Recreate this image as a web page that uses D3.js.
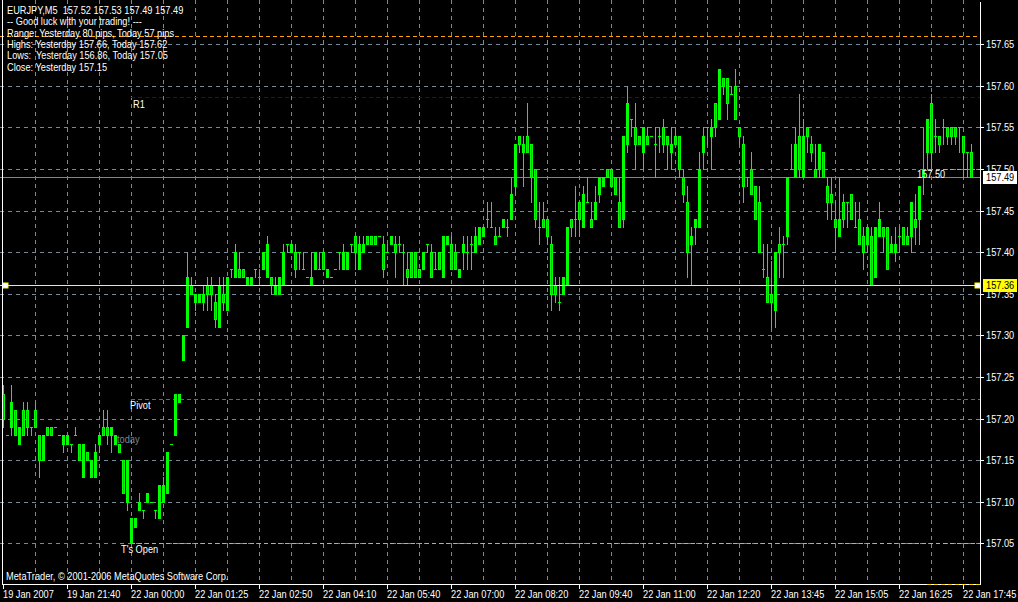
<!DOCTYPE html>
<html><head><meta charset="utf-8">
<script src="https://cdn.jsdelivr.net/npm/d3@7"></script>
<style>
html,body{margin:0;padding:0;background:#000;}
svg{display:block;}
text{font-family:"Liberation Sans",Arial,sans-serif;font-size:10.5px;white-space:pre;}
</style></head>
<body>
<svg id="c" width="1018" height="602"></svg>
<script>
// ---- data (EURJPY M5) ----
const opens = [157.23,157.18,157.19,157.21,157.17,157.21,157.21,157.19,157.21,157.18,157.15,157.19,157.19,157.19,157.18,157.17,157.17,157.17,157.18,157.17,157.13,157.16,157.13,157.13,157.17,157.19,157.19,157.18,157.17,157.17,157.15,157.10,
157.05,157.07,157.09,157.09,157.10,157.10,157.09,157.08,157.10,157.11,157.17,157.18,157.22,157.27,157.31,157.36,157.34,157.34,157.34,157.36,157.36,157.34,157.31,157.35,157.33,157.38,157.37,157.38,157.38,157.36,157.36,157.38,157.37,157.38,157.37,157.37,157.35,157.35,157.36,157.41,157.40,157.40,157.40,157.38,157.37,157.36,157.38,157.38,157.40,157.37,157.37,157.38,157.40,157.38,157.38,157.41,157.42,157.38,157.40,157.42,157.42,157.42,157.42,157.41,157.40,157.41,157.41,157.41,157.40,157.38,157.40,157.40,157.38,157.38,157.41,157.40,157.38,157.40,157.37,157.41,157.41,157.40,157.37,157.40,157.40,157.41,157.40,157.41,157.42,157.44,157.43,157.42,157.42,157.43,157.43,157.44,157.48,157.54,157.52,157.54,157.53,157.50,157.43,157.44,157.44,157.41,157.36,157.34,157.35,157.36,157.44,157.44,157.46,157.43,157.46,157.44,157.44,157.47,157.48,157.50,157.50,157.49,157.46,157.44,157.53,157.56,157.55,157.54,157.52,157.54,157.54,157.53,157.54,157.55,157.54,157.52,157.54,157.54,157.49,157.46,157.41,157.43,157.43,157.52,157.55,157.54,157.58,157.56,157.61,157.61,157.59,157.60,157.55,157.53,157.49,157.50,157.48,157.46,157.38,157.37,157.35,157.33,157.41,157.41,157.42,157.50,157.49,157.54,157.49,157.55,157.53,157.50,157.50,157.52,157.48,157.47,157.44,157.42,157.46,157.46,157.47,157.43,157.44,157.42,157.41,157.42,157.37,157.42,157.43,157.43,157.40,157.40,157.42,157.43,157.42,157.42,157.44,157.44,157.49,157.52,157.58,157.54,157.54,157.55,157.55,157.55,157.55,157.55,157.54,157.52,157.52];
const highs = [157.24,157.18,157.24,157.21,157.19,157.22,157.22,157.19,157.22,157.18,157.18,157.19,157.19,157.19,157.18,157.18,157.18,157.17,157.19,157.17,157.17,157.16,157.15,157.17,157.18,157.21,157.21,157.19,157.18,157.17,157.15,157.15,
157.08,157.08,157.11,157.09,157.11,157.10,157.09,157.12,157.13,157.16,157.17,157.23,157.23,157.30,157.40,157.37,157.35,157.35,157.36,157.37,157.37,157.35,157.37,157.37,157.37,157.38,157.41,157.40,157.38,157.37,157.37,157.38,157.38,157.40,157.42,157.37,157.37,157.37,157.41,157.41,157.41,157.41,157.40,157.40,157.37,157.40,157.40,157.40,157.40,157.38,157.37,157.38,157.40,157.41,157.40,157.41,157.42,157.42,157.42,157.42,157.42,157.42,157.42,157.42,157.41,157.42,157.42,157.42,157.41,157.40,157.40,157.40,157.38,157.40,157.41,157.41,157.40,157.40,157.42,157.42,157.42,157.41,157.38,157.42,157.42,157.42,157.43,157.43,157.43,157.46,157.46,157.43,157.43,157.44,157.44,157.49,157.53,157.54,157.54,157.58,157.53,157.50,157.46,157.46,157.44,157.42,157.37,157.37,157.37,157.43,157.44,157.48,157.46,157.48,157.49,157.46,157.48,157.49,157.49,157.50,157.50,157.49,157.49,157.54,157.60,157.56,157.58,157.54,157.55,157.55,157.54,157.55,157.55,157.56,157.54,157.55,157.55,157.54,157.50,157.48,157.43,157.44,157.52,157.55,157.55,157.56,157.58,157.62,157.61,157.61,157.60,157.62,157.55,157.54,157.49,157.52,157.48,157.48,157.41,157.41,157.39,157.40,157.43,157.42,157.49,157.53,157.55,157.59,157.56,157.55,157.54,157.53,157.53,157.52,157.49,157.49,157.46,157.49,157.47,157.46,157.47,157.46,157.46,157.43,157.43,157.43,157.43,157.46,157.43,157.43,157.42,157.43,157.43,157.43,157.43,157.46,157.47,157.48,157.55,157.56,157.59,157.56,157.54,157.56,157.55,157.55,157.55,157.55,157.54,157.52,157.53];
const lows = [157.19,157.18,157.18,157.18,157.17,157.18,157.18,157.18,157.19,157.13,157.15,157.18,157.18,157.19,157.18,157.16,157.17,157.16,157.18,157.15,157.13,157.15,157.13,157.13,157.16,157.18,157.17,157.16,157.17,157.16,157.11,157.09,
157.05,157.07,157.09,157.08,157.10,157.10,157.08,157.08,157.10,157.11,157.17,157.18,157.22,157.27,157.31,157.35,157.33,157.34,157.33,157.33,157.33,157.31,157.31,157.33,157.33,157.37,157.37,157.37,157.37,157.36,157.36,157.37,157.36,157.38,157.37,157.35,157.35,157.35,157.36,157.40,157.40,157.37,157.38,157.38,157.37,157.36,157.38,157.38,157.38,157.37,157.37,157.38,157.38,157.38,157.38,157.40,157.38,157.38,157.40,157.41,157.41,157.41,157.42,157.37,157.40,157.41,157.37,157.40,157.36,157.36,157.37,157.37,157.37,157.38,157.40,157.37,157.38,157.38,157.37,157.41,157.38,157.38,157.37,157.38,157.38,157.38,157.40,157.41,157.42,157.43,157.43,157.41,157.42,157.43,157.42,157.44,157.47,157.52,157.48,157.52,157.46,157.43,157.41,157.43,157.41,157.33,157.34,157.33,157.35,157.36,157.42,157.42,157.42,157.43,157.46,157.43,157.44,157.46,157.48,157.49,157.48,157.47,157.43,157.43,157.52,157.54,157.50,157.53,157.50,157.53,157.54,157.49,157.52,157.52,157.50,157.50,157.53,157.49,157.46,157.37,157.36,157.41,157.43,157.50,157.53,157.50,157.54,157.56,157.59,157.56,157.59,157.56,157.53,157.46,157.48,157.47,157.44,157.40,157.37,157.34,157.31,157.31,157.37,157.37,157.41,157.50,157.49,157.49,157.49,157.52,157.51,157.49,157.49,157.49,157.44,157.44,157.40,157.42,157.43,157.43,157.44,157.43,157.41,157.38,157.40,157.36,157.37,157.42,157.40,157.38,157.40,157.39,157.40,157.41,157.41,157.40,157.41,157.41,157.47,157.50,157.50,157.52,157.52,157.53,157.53,157.53,157.53,157.52,157.49,157.49,157.49];
const closes = [157.20,157.18,157.22,157.18,157.19,157.18,157.19,157.19,157.19,157.15,157.18,157.18,157.18,157.19,157.18,157.18,157.18,157.17,157.18,157.15,157.17,157.15,157.15,157.16,157.18,157.18,157.18,157.19,157.18,157.16,157.11,157.15,
157.08,157.08,157.10,157.09,157.11,157.10,157.09,157.12,157.12,157.16,157.17,157.23,157.23,157.30,157.37,157.35,157.35,157.35,157.35,157.35,157.35,157.32,157.36,157.34,157.37,157.38,157.40,157.37,157.37,157.37,157.37,157.38,157.37,157.40,157.41,157.36,157.36,157.37,157.40,157.41,157.41,157.38,157.40,157.38,157.37,157.37,157.40,157.38,157.38,157.38,157.37,157.38,157.40,157.40,157.40,157.41,157.40,157.41,157.41,157.41,157.41,157.41,157.42,157.38,157.40,157.42,157.40,157.41,157.40,157.37,157.37,157.37,157.37,157.40,157.41,157.37,157.38,157.38,157.42,157.42,157.38,157.38,157.38,157.41,157.40,157.41,157.42,157.43,157.43,157.44,157.43,157.41,157.42,157.44,157.43,157.47,157.53,157.53,157.53,157.52,157.49,157.44,157.43,157.43,157.42,157.35,157.35,157.34,157.37,157.43,157.43,157.44,157.44,157.47,157.46,157.43,157.46,157.49,157.49,157.49,157.48,157.47,157.43,157.54,157.58,157.56,157.53,157.53,157.55,157.53,157.54,157.53,157.54,157.53,157.53,157.53,157.53,157.50,157.47,157.40,157.42,157.44,157.50,157.54,157.55,157.55,157.55,157.62,157.60,157.58,157.59,157.56,157.54,157.48,157.49,157.47,157.44,157.40,157.38,157.34,157.34,157.40,157.40,157.41,157.49,157.50,157.53,157.50,157.54,157.54,157.52,157.49,157.53,157.49,157.46,157.46,157.43,157.44,157.44,157.46,157.44,157.43,157.41,157.40,157.43,157.36,157.43,157.44,157.42,157.38,157.41,157.41,157.42,157.41,157.41,157.46,157.43,157.48,157.50,157.56,157.52,157.54,157.53,157.55,157.54,157.54,157.54,157.55,157.52,157.52,157.49];

const priceTicks = [157.05,157.10,157.15,157.20,157.25,157.30,157.35,157.40,157.45,157.50,157.55,157.60,157.65];
const timeLabels = ["19 Jan 2007","19 Jan 21:40","22 Jan 00:00","22 Jan 01:25","22 Jan 02:50","22 Jan 04:10","22 Jan 05:40","22 Jan 07:00","22 Jan 08:20","22 Jan 09:40","22 Jan 11:00","22 Jan 12:20","22 Jan 13:45","22 Jan 15:05","22 Jan 16:25","22 Jan 17:45"];
const headerLines = ["EURJPY,M5  157.52 157.53 157.49 157.49","-- Good luck with your trading! ---","Range: Yesterday 80 pips, Today 57 pips","Highs: Yesterday 157.66, Today 157.62","Lows:  Yesterday 156.86, Today 157.05","Close: Yesterday 157.15"];
const levels = {yHigh:157.66, r1:157.5867, pivot:157.2233, todayOpen:157.05, bid:157.49, line:157.36, mark:157.50};

// ---- layout ----
const svg = d3.select("#c");
const W = 1018, H = 602, plotR = 980, plotB = 584;
const n = opens.length;
const x = d3.scaleLinear().domain([0, n - 1]).range([3, 3 + 4 * (n - 1)]);
const y = d3.scaleLinear().domain([157.05, 157.65]).range([543.3, 44.3]);
const py = v => Math.round(y(v));
const LIME = "#00ff00", GRID = "#778899", SX = 0.88;

svg.append("rect").attr("width", W).attr("height", H).attr("fill", "#000");

function txt(sel, xf, yf) {
  return sel.attr("transform", (d, k) => `translate(${typeof xf === "function" ? xf(d, k) : xf},${typeof yf === "function" ? yf(d, k) : yf}) scale(${SX},1)`);
}

// grid
const g = svg.append("g");
g.selectAll("line.h").data(priceTicks).join("line")
  .attr("x1", 0).attr("x2", plotR).attr("y1", d => py(d) + 0.5).attr("y2", d => py(d) + 0.5)
  .attr("stroke", GRID).attr("stroke-dasharray", "4,4");
const vIdx = d3.range(8, n, 8);
g.selectAll("line.v").data(vIdx).join("line")
  .attr("x1", d => x(d) + 0.5).attr("x2", d => x(d) + 0.5).attr("y1", 0).attr("y2", plotB)
  .attr("stroke", GRID).attr("stroke-dasharray", "4,4");

// level lines
function hline(v, x1, x2, color, dash) {
  svg.append("line").attr("x1", x1).attr("x2", x2).attr("y1", py(v) + 0.5).attr("y2", py(v) + 0.5)
    .attr("stroke", color).attr("stroke-dasharray", dash || null);
}
hline(levels.yHigh, 0, plotR, "#ffa500", "4,3");
hline(levels.r1, x(32), plotR, "#0000ff", "4,3");
hline(levels.pivot, x(32), plotR, "#ff00ff", "4,3");
hline(levels.todayOpen, x(32), plotR, "#ffa500", "4,3");
hline(levels.mark, 922, plotR, "#ffa500", "4,3");
hline(levels.bid, 0, plotR, GRID);

// candles
const idx = d3.range(n);
const cg = svg.append("g");
cg.selectAll("rect.w").data(idx).join("rect")
  .attr("x", i => x(i)).attr("width", 1)
  .attr("y", i => py(highs[i])).attr("height", i => py(lows[i]) - py(highs[i]) + 1)
  .attr("fill", LIME);
cg.selectAll("rect.b").data(idx).join("rect")
  .attr("x", i => x(i) - 1).attr("width", 3)
  .attr("y", i => py(Math.max(opens[i], closes[i])))
  .attr("height", i => py(Math.min(opens[i], closes[i])) - py(Math.max(opens[i], closes[i])) + 1)
  .attr("fill", LIME);
const bears = idx.filter(i => closes[i] < opens[i] && py(closes[i]) - py(opens[i]) > 2);
cg.selectAll("rect.i").data(bears).join("rect")
  .attr("x", i => x(i)).attr("width", 1)
  .attr("y", i => py(opens[i]) + 1)
  .attr("height", i => py(closes[i]) - py(opens[i]) - 1)
  .attr("fill", "#9a4aa6");

// yellow line
hline(levels.line, 0, plotR, "#ffff00");
svg.append("rect").attr("x", 3).attr("y", py(levels.line) - 2).attr("width", 5).attr("height", 5).attr("fill", "#fff").attr("stroke", "#ffff00");
svg.append("rect").attr("x", 975).attr("y", py(levels.line) - 2).attr("width", 5).attr("height", 5).attr("fill", "#fff").attr("stroke", "#ffff00");

// frame
svg.append("line").attr("x1", 2.5).attr("x2", 2.5).attr("y1", 0).attr("y2", plotB + 1).attr("stroke", "#fff");
svg.append("line").attr("x1", plotR + 0.5).attr("x2", plotR + 0.5).attr("y1", 2).attr("y2", plotB + 1).attr("stroke", "#fff");
svg.append("line").attr("x1", 2).attr("x2", plotR + 1).attr("y1", plotB + 0.5).attr("y2", plotB + 0.5).attr("stroke", "#fff");
svg.append("line").attr("x1", 927).attr("x2", plotR).attr("y1", plotB + 0.5).attr("y2", plotB + 0.5).attr("stroke", "#ffd700").attr("stroke-dasharray", "4,3");

// right axis
const ra = svg.append("g");
ra.selectAll("line").data(priceTicks).join("line")
  .attr("x1", plotR).attr("x2", plotR + 4).attr("y1", d => py(d) + 0.5).attr("y2", d => py(d) + 0.5).attr("stroke", "#fff");
txt(ra.selectAll("text").data(priceTicks).join("text"), 986, d => py(d) + 4)
  .attr("fill", "#fff").text(d => d.toFixed(2));

// price boxes
function box(v, bg) {
  svg.append("rect").attr("x", 983).attr("y", py(v) - 6).attr("width", 34).attr("height", 13).attr("fill", bg);
  txt(svg.append("text"), 986, py(v) + 4).attr("fill", "#000").text(v.toFixed(2));
}
box(levels.bid, "#fff");
box(levels.line, "#ffff00");

// bottom axis
const ba = svg.append("g");
const tIdx = timeLabels.map((_, k) => k * 16);
ba.selectAll("line").data(tIdx).join("line")
  .attr("x1", d => x(d) + 0.5).attr("x2", d => x(d) + 0.5).attr("y1", plotB).attr("y2", plotB + 5).attr("stroke", "#fff");
txt(ba.selectAll("text").data(timeLabels).join("text"), (d, k) => x(tIdx[k]), 597.5)
  .attr("fill", "#fff").text(d => d);

// header text
txt(svg.append("g").selectAll("text").data(headerLines).join("text"), 7, (d, k) => 14 + k * 11.33)
  .attr("fill", "#fff").text(d => d);

// labels on chart
function label(t, xx, yy, col) { txt(svg.append("text"), xx, yy).attr("fill", col || "#fff").text(t); }
label("R1", 133, 108);
label("Pivot", 130, 409);
label("today", 117, 443, GRID);
label("T's Open", 121, 553);
label("157.50", 917, 178);
label("MetaTrader, © 2001-2006 MetaQuotes Software Corp.", 6, 580);
</script>
</body></html>
